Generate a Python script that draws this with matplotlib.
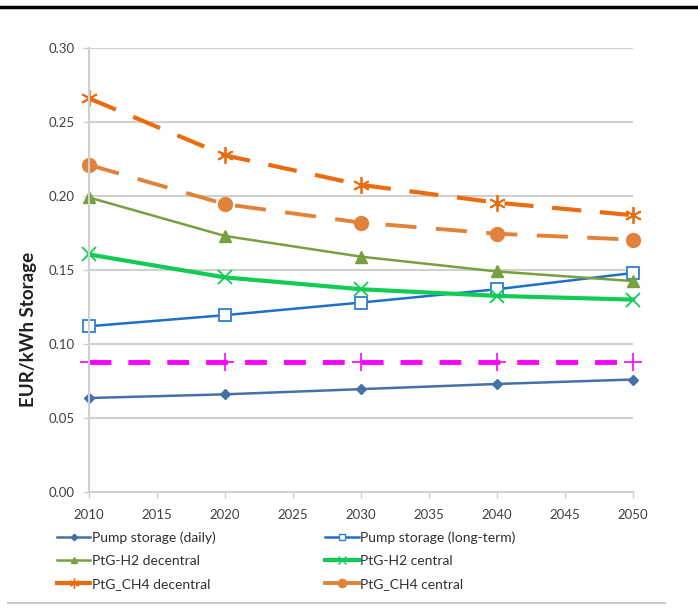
import matplotlib
matplotlib.use("Agg")
import matplotlib.pyplot as plt
from matplotlib.lines import Line2D

plt.rcParams['font.family'] = ['Lato', 'DejaVu Sans']

years = [2010, 2020, 2030, 2040, 2050]
pump_daily = [0.0635, 0.066, 0.0695, 0.073, 0.076]
pump_longterm = [0.112, 0.1195, 0.128, 0.137, 0.148]
h2_decentral = [0.199, 0.173, 0.159, 0.149, 0.1425]
h2_central = [0.1605, 0.145, 0.137, 0.1325, 0.130]
ch4_decentral = [0.266, 0.2275, 0.2075, 0.1955, 0.187]
ch4_central = [0.221, 0.1945, 0.182, 0.1745, 0.1705]
reference_level = [0.088, 0.088, 0.088, 0.088, 0.088]

y_ticks = [0.00, 0.05, 0.10, 0.15, 0.20, 0.25, 0.30]
x_ticks = [2010, 2015, 2020, 2025, 2030, 2035, 2040, 2045, 2050]

fig = plt.figure(figsize=(6.98, 6.08), dpi=100)
W, H = 698, 608
ax = fig.add_axes([89 / W, 1 - 492 / H, (633 - 89) / W, (492 - 48) / H])

grid_c = '#D0D0D0'
ax.set_xlim(2010, 2050)
ax.set_ylim(0, 0.30)
ax.set_yticks(y_ticks)
ax.set_yticklabels([f"{v:.2f}" for v in y_ticks])
ax.set_xticks(x_ticks)
ax.yaxis.grid(True, color=grid_c, linewidth=1.5)
ax.set_axisbelow(True)
for s in ['top', 'right']:
    ax.spines[s].set_visible(False)
for s in ['left', 'bottom']:
    ax.spines[s].set_color(grid_c)
    ax.spines[s].set_linewidth(1.5)
ax.tick_params(axis='both', colors=grid_c, labelcolor='#404040', labelsize=9.5, length=4, width=1)
ax.tick_params(axis='y', pad=6)
ax.tick_params(axis='x', pad=8)
ax.set_ylabel('EUR/kWh Storage', fontsize=13.5, fontweight='bold', color='#202020')
ax.yaxis.set_label_coords(-0.096, 0.367)

h_daily, = ax.plot(years, pump_daily, color='#4472A8', lw=1.8, marker='D', ms=5.5,
                   label='Pump storage (daily)', clip_on=False)
h_long, = ax.plot(years, pump_longterm, color='#1F6FC8', lw=1.8, marker='s', ms=8,
                  mfc='white', mec='#2E80D0', mew=1.3, label='Pump storage (long-term)', clip_on=False)
h_h2d, = ax.plot(years, h2_decentral, color='#78A040', lw=1.8, marker='^', ms=8,
                 label='PtG-H2 decentral', clip_on=False)
h_h2c, = ax.plot(years, h2_central, color='#10CC55', lw=3.0, marker='x', ms=10, mew=1.3,
                 label='PtG-H2 central', clip_on=False)
h_ch4d, = ax.plot(years, ch4_decentral, color='#EA6C10', lw=3.0, marker=(6, 2, 0), ms=12, mew=1.3,
                  dashes=(7, 4.5), label='PtG_CH4 decentral', clip_on=False)
h_ch4c, = ax.plot(years, ch4_central, color='#E0823A', lw=2.8, marker='o', ms=10,
                  dashes=(8, 5), label='PtG_CH4 central', clip_on=False)
ax.plot(years, reference_level, color='#FF00FF', lw=3.5, marker='+', ms=13, mew=1.2,
        dashes=(4.5, 3.5), clip_on=False)

handles = [h_daily, h_h2d, h_ch4d, h_long, h_h2c, h_ch4c]
legend_handles = []
for h in handles:
    legend_handles.append(Line2D([], [], color=h.get_color(), lw=h.get_linewidth(),
                                 marker=h.get_marker(), ms=h.get_markersize() * 0.6,
                                 mfc=h.get_markerfacecolor(), mec=h.get_markeredgecolor(),
                                 mew=1.0, linestyle='-'))
leg = fig.legend(handles=legend_handles, labels=[h.get_label() for h in handles],
                 ncol=2, loc='upper left', bbox_to_anchor=(57 / W, 1 - 531 / H),
                 borderpad=0, borderaxespad=0,
                 frameon=False, fontsize=10, handlelength=2.4, handletextpad=0.1,
                 columnspacing=7.9, labelspacing=0.82, labelcolor='#303030')

fig.add_artist(Line2D([0, 1], [1 - 7 / H, 1 - 7 / H], color='black', lw=2.5))
fig.add_artist(Line2D([8 / W, 665 / W], [1 - 603 / H, 1 - 603 / H], color='#C8C8C8', lw=1.5))

fig.savefig('out.png', dpi=100)
